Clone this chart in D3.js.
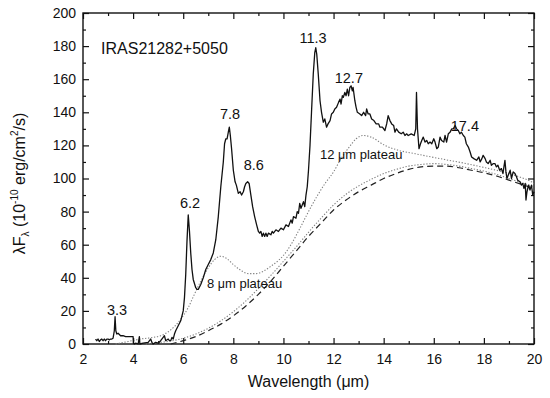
<!DOCTYPE html>
<html>
<head>
<meta charset="utf-8">
<script src="https://cdn.jsdelivr.net/npm/d3@7"></script>
<style>
  body { margin: 0; background: #fff; }
  text { font-family: "Liberation Sans", Arial, sans-serif; fill: #111; }
</style>
</head>
<body>
<svg id="chart" width="550" height="398"></svg>
<script>
// observed spectrum, [wavelength (um), lambda F_lambda]
var spectrum = [
  [2.5,3],[2.55,2],[2.6,3],[2.65,1.5],[2.7,2.5],[2.75,3],[2.8,2],[2.85,3],[2.9,2],[2.95,3],
  [3.0,3],[3.05,2.5],[3.1,3],[3.15,3],[3.2,3.5],[3.25,8],[3.28,16.5],[3.31,8],[3.35,6],[3.4,6.5],
  [3.5,5],[3.6,5],[3.7,4.5],[3.8,4.5],[3.9,4.5],[4.0,4.5],[4.01,0.5],[4.05,0],[4.1,0.5],[4.2,0],
  [4.25,4.5],[4.27,0],[4.4,0.5],[4.6,1],[4.7,3],[4.75,1],[4.8,0],[4.9,1],[5.0,0.5],[5.1,2],
  [5.2,4],[5.25,5],[5.3,2],[5.4,3],[5.45,2],[5.5,2],[5.55,4],[5.6,3],[5.65,6],[5.7,8],
  [5.8,11],[5.9,14],[5.95,17],[6.0,20],[6.05,28],[6.1,42],[6.15,62],[6.2,78],[6.25,68],[6.3,55],
  [6.35,45],[6.4,39],[6.5,34],[6.55,33],[6.6,33],[6.7,36],[6.8,40],[6.9,45],[7.0,48],[7.1,51],
  [7.15,53],[7.2,55],[7.3,63],[7.4,77],[7.5,95],[7.6,110],[7.65,121],[7.7,124],[7.75,124],[7.8,128],
  [7.84,131],[7.88,126],[7.93,118],[8.0,105],[8.07,98],[8.12,96],[8.2,91],[8.27,92],[8.33,90],[8.4,92],
  [8.45,95],[8.5,97],[8.57,98],[8.63,97],[8.7,90],[8.77,83],[8.85,77],[8.93,72],[9.0,68],[9.05,67],
  [9.1,68],[9.15,65],[9.2,67],[9.25,65],[9.3,67],[9.35,65],[9.4,67],[9.5,66],[9.55,68],[9.6,67],
  [9.7,69],[9.8,68],[9.9,70],[10.0,69],[10.1,72],[10.2,71],[10.3,75],[10.35,73],[10.4,77],[10.5,76],
  [10.55,80],[10.6,79],[10.65,85],[10.7,82],[10.8,86],[10.85,83],[10.9,90],[10.95,95],[11.0,105],[11.06,120],
  [11.12,140],[11.19,163],[11.25,176],[11.29,179],[11.33,175],[11.39,163],[11.46,147],[11.52,140],[11.59,134],[11.65,136],
  [11.72,131],[11.78,133],[11.86,135],[11.92,139],[11.99,140],[12.05,142],[12.12,143],[12.2,146],[12.26,148],[12.3,145],
  [12.35,150],[12.39,149],[12.45,152],[12.5,150],[12.55,154],[12.6,150],[12.65,155],[12.7,156],[12.75,153],[12.78,155],
  [12.85,147],[12.9,143],[12.95,140],[13.05,139],[13.12,138],[13.2,140],[13.28,138],[13.32,142],[13.38,139],[13.45,139],
  [13.52,136],[13.61,135],[13.7,133],[13.8,133],[13.85,131],[13.95,131],[14.05,129],[14.12,133],[14.18,138],[14.25,135],
  [14.32,133],[14.4,132],[14.45,128],[14.51,130],[14.6,128],[14.7,127],[14.78,128],[14.85,126],[14.92,127],[14.98,126],
  [15.1,127],[15.22,126],[15.28,130],[15.31,152],[15.35,130],[15.41,118],[15.47,121],[15.52,123],[15.58,125],[15.65,122],
  [15.72,123],[15.78,121],[15.85,122],[15.92,121],[16.0,124],[16.05,122],[16.12,118],[16.18,119],[16.25,125],[16.31,123],
  [16.4,122],[16.45,126],[16.51,122],[16.58,127],[16.65,128],[16.72,130],[16.78,130],[16.85,132],[16.91,130],[16.98,129],
  [17.04,127],[17.1,128],[17.18,126],[17.24,125],[17.3,121],[17.38,119],[17.45,116],[17.51,113],[17.6,112],[17.71,111],
  [17.8,113],[17.85,110],[17.92,112],[17.97,114],[18.05,112],[18.1,110],[18.17,109],[18.25,111],[18.3,108],[18.38,109],
  [18.44,109],[18.5,107],[18.56,108],[18.63,105],[18.7,106],[18.76,103],[18.8,107],[18.84,111],[18.88,104],[18.92,100],
  [18.97,102],[19.05,105],[19.1,100],[19.17,104],[19.24,103],[19.3,101],[19.35,99],[19.44,98],[19.5,96],[19.55,97],
  [19.6,94],[19.65,97],[19.68,87],[19.72,92],[19.78,96],[19.84,93],[19.9,96],[19.95,90],[20.0,92]
];

// dust continuum (dashed)
var continuum = [
  [5.5,0],[6,2],[6.5,4.5],[7,8],[7.5,12],[8,17],[8.5,23],[9,30],[9.5,38],[10,47],
  [10.5,56],[11,65],[11.5,73],[12,81],[12.5,87],[13,92],[13.5,96],[14,100],[14.5,103],[15,105.5],
  [15.5,107],[16,107.5],[16.5,107.5],[17,106.5],[17.5,105],[18,103.5],[18.5,101.5],[19,99],[19.5,96.5],[20,94]
];

// continuum + small component (lower dotted)
var lowerDotted = [
  [4.5,0],[5,0.8],[5.5,1.8],[6,3.5],[6.5,6],[7,9.5],[7.5,14],[8,19.5],[8.5,26],[9,33.5],
  [9.5,41.5],[10,50],[10.5,58.5],[11,67.5],[11.5,76],[12,84],[12.5,90.5],[13,95.5],[13.5,99.5],[14,103],
  [14.5,105.5],[15,107.5],[15.5,108.5],[16,109],[16.5,108.5],[17,107.5],[17.5,106],[18,104.5],[18.5,102.5],[19,100],
  [19.5,97.5],[20,95]
];

// continuum + 8 and 12 um plateaus (upper dotted)
var plateaus = [
  [3.3,0],[3.8,1.5],[4.3,3],[4.8,4],[5.1,5],[5.5,8.5],[5.9,15],[6.2,22],[6.4,28.5],[6.7,38],
  [7.0,46],[7.25,51],[7.5,53],[7.75,51.5],[8.0,48],[8.3,44.5],[8.6,42.5],[8.9,42.5],[9.2,44],[9.5,47],
  [9.8,50.5],[10.0,53.5],[10.3,60],[10.66,70],[11.0,80],[11.33,89],[11.66,97],[12.0,104],[12.3,112],[12.65,119.5],
  [12.9,124],[13.2,126],[13.5,125],[14.05,120],[14.6,117],[15.25,115],[15.9,113],[16.6,111],[17.3,109],[17.9,107],
  [18.5,105],[19.0,103],[19.5,100.5],[19.9,98],[20,97]
];

var peakLabels = [
  {t: "3.3", x: 3.36, y: 17.5}, {t: "6.2", x: 6.27, y: 82}, {t: "7.8", x: 7.87, y: 136},
  {t: "8.6", x: 8.82, y: 105}, {t: "11.3", x: 11.18, y: 182}, {t: "12.7", x: 12.61, y: 158},
  {t: "17.4", x: 17.24, y: 129}
];
var plateauLabels = [{n: "8", x: 6.95, y: 34}, {n: "12", x: 11.46, y: 112}];
var objectName = "IRAS21282+5050";

var xTicks = d3.range(2, 21, 2);
var yTicks = d3.range(0, 201, 20);

var svg = d3.select("#chart"),
    margin = {top: 13, right: 16, bottom: 54, left: 83},
    width = +svg.attr("width") - margin.left - margin.right,
    height = +svg.attr("height") - margin.top - margin.bottom,
    g = svg.append("g").attr("transform", "translate(" + margin.left + "," + margin.top + ")");

var x = d3.scaleLinear().domain([2, 20]).range([0, width]);
var y = d3.scaleLinear().domain([0, 200]).range([height, 0]);

// ticks point inward on all four sides
function ticks(axis, vals, len) {
  return axis.tickValues(vals).tickSizeInner(-len).tickSizeOuter(0);
}
var xMinor = d3.range(3, 20, 2), yMinor = d3.range(10, 200, 20);

g.append("g").attr("transform", "translate(0," + height + ")")
  .call(ticks(d3.axisBottom(x), xTicks, 6).tickPadding(10))
  .call(a => a.selectAll("text").style("font-size", "14px").attr("fill", "#111"));
g.append("g").attr("transform", "translate(0," + height + ")")
  .call(ticks(d3.axisBottom(x), xMinor, 3).tickFormat(""));
g.append("g").call(ticks(d3.axisTop(x), xTicks, 6).tickFormat(""));
g.append("g").call(ticks(d3.axisTop(x), xMinor, 3).tickFormat(""));

g.append("g")
  .call(ticks(d3.axisLeft(y), yTicks, 6).tickPadding(7))
  .call(a => a.selectAll("text").style("font-size", "14px").attr("fill", "#111"));
g.append("g").call(ticks(d3.axisLeft(y), yMinor, 3).tickFormat(""));
g.append("g").attr("transform", "translate(" + width + ",0)")
  .call(ticks(d3.axisRight(y), yTicks, 6).tickFormat(""));
g.append("g").attr("transform", "translate(" + width + ",0)")
  .call(ticks(d3.axisRight(y), yMinor, 3).tickFormat(""));

g.selectAll(".domain").remove();
g.selectAll(".tick line").attr("stroke", "#111").attr("stroke-width", 1.2);

g.append("rect")
  .attr("width", width).attr("height", height)
  .attr("fill", "none").attr("stroke", "#111").attr("stroke-width", 1.4);

var smooth = d3.line().x(d => x(d[0])).y(d => y(d[1])).curve(d3.curveMonotoneX);
var raw = d3.line().x(d => x(d[0])).y(d => y(d[1]));

g.append("path").datum(plateaus).attr("d", smooth)
  .attr("fill", "none").attr("stroke", "#808080").attr("stroke-width", 1.1).attr("stroke-dasharray", "1.3,1.7");
g.append("path").datum(lowerDotted).attr("d", smooth)
  .attr("fill", "none").attr("stroke", "#808080").attr("stroke-width", 1.1).attr("stroke-dasharray", "1.3,1.7");
g.append("path").datum(continuum).attr("d", smooth)
  .attr("fill", "none").attr("stroke", "#222").attr("stroke-width", 1.2).attr("stroke-dasharray", "6,4");
g.append("path").datum(spectrum).attr("d", raw)
  .attr("fill", "none").attr("stroke", "#111").attr("stroke-width", 1.3).attr("stroke-linejoin", "round");

g.selectAll(".peak").data(peakLabels).enter().append("text")
  .attr("class", "peak")
  .attr("x", d => x(d.x)).attr("y", d => y(d.y))
  .attr("text-anchor", "middle")
  .style("font-size", "14.5px")
  .text(d => d.t);

var pl = g.selectAll(".plat").data(plateauLabels).enter().append("text")
  .attr("class", "plat")
  .attr("x", d => x(d.x)).attr("y", d => y(d.y))
  .style("font-size", "13px");
pl.append("tspan").text(d => d.n + " ");
pl.append("tspan").text("\u03bc").style("font-size", "12.5px");
pl.append("tspan").text("m plateau");

g.append("text")
  .attr("x", x(2.72)).attr("y", y(175))
  .style("font-size", "16px")
  .text(objectName);

// axis titles
g.append("text")
  .attr("x", width / 2).attr("y", height + 43)
  .attr("text-anchor", "middle")
  .style("font-size", "16px")
  .text("Wavelength (\u03bcm)");

var yl = svg.append("text")
  .attr("transform", "translate(25," + (margin.top + height / 2 + 5) + ") rotate(-90)")
  .attr("text-anchor", "middle")
  .style("font-size", "16px");
yl.append("tspan").text("\u03bbF");
yl.append("tspan").text("\u03bb").style("font-size", "10px").attr("dy", 4);
yl.append("tspan").text(" (10").attr("dy", -4);
yl.append("tspan").text("-10").style("font-size", "10px").attr("dy", -7);
yl.append("tspan").text(" erg/cm").attr("dy", 7);
yl.append("tspan").text("2").style("font-size", "10px").attr("dy", -7);
yl.append("tspan").text("/s)").attr("dy", 7);
</script>
</body>
</html>
